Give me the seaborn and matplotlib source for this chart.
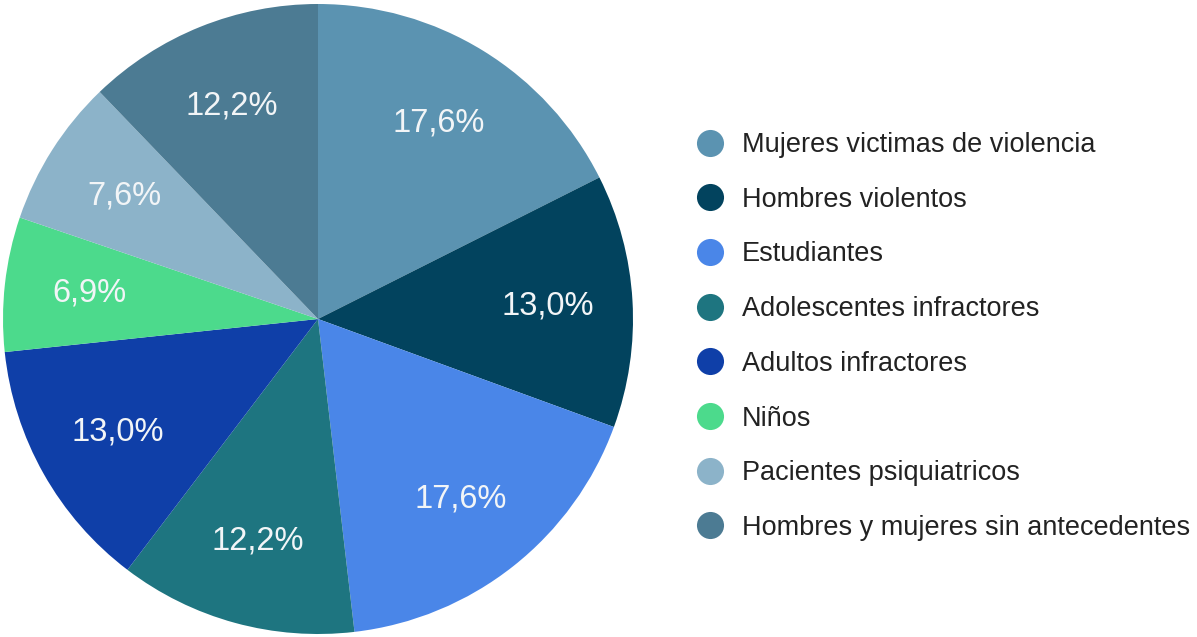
import matplotlib
matplotlib.use("Agg")
import matplotlib.pyplot as plt
from matplotlib.lines import Line2D
import seaborn as sns

sns.set_theme(style="white")
plt.rcParams["font.family"] = ["Liberation Sans", "DejaVu Sans"]

categories = [
    "Mujeres victimas de violencia",
    "Hombres violentos",
    "Estudiantes",
    "Adolescentes infractores",
    "Adultos infractores",
    "Niños",
    "Pacientes psiquiatricos",
    "Hombres y mujeres sin antecedentes",
]
values = [17.6, 13.0, 17.6, 12.2, 13.0, 6.9, 7.6, 12.2]
colors = ["#5b93b1", "#02435e", "#4a86e8", "#1e7580", "#0f3fa8",
          "#4cda8c", "#8cb3c9", "#4c7b93"]

W, H = 1197, 637
fig = plt.figure(figsize=(W / 100, H / 100), dpi=100)
fig.patch.set_facecolor("white")

cx, cy, r = 318, 319, 315
ax = fig.add_axes([(cx - r) / W, (H - cy - r) / H, 2 * r / W, 2 * r / H])

def fmt(p):
    return f"{p:.1f}%".replace(".", ",")

wedges, texts, autotexts = ax.pie(
    values, colors=colors, startangle=90, counterclock=False,
    autopct=fmt, pctdistance=0.73, radius=1.0,
    wedgeprops=dict(linewidth=0),
    textprops=dict(color="#f2f5f7", fontsize=23.5),
)
ax.set_xlim(-1, 1)
ax.set_ylim(-1, 1)
ax.set_aspect("equal")
ax.axis("off")

handles = [Line2D([0], [0], marker="o", linestyle="none", markersize=19.5,
                  markerfacecolor=c, markeredgewidth=0) for c in colors]
fig.legend(handles, categories, loc="upper left",
           bbox_to_anchor=(696.5 / W, 1 - 132 / H), frameon=False,
           fontsize=19.5, labelcolor="#222222", handlelength=1.0,
           handletextpad=0.68, labelspacing=1.06, borderpad=0,
           borderaxespad=0)

fig.savefig("out.png", dpi=100, facecolor="white")
